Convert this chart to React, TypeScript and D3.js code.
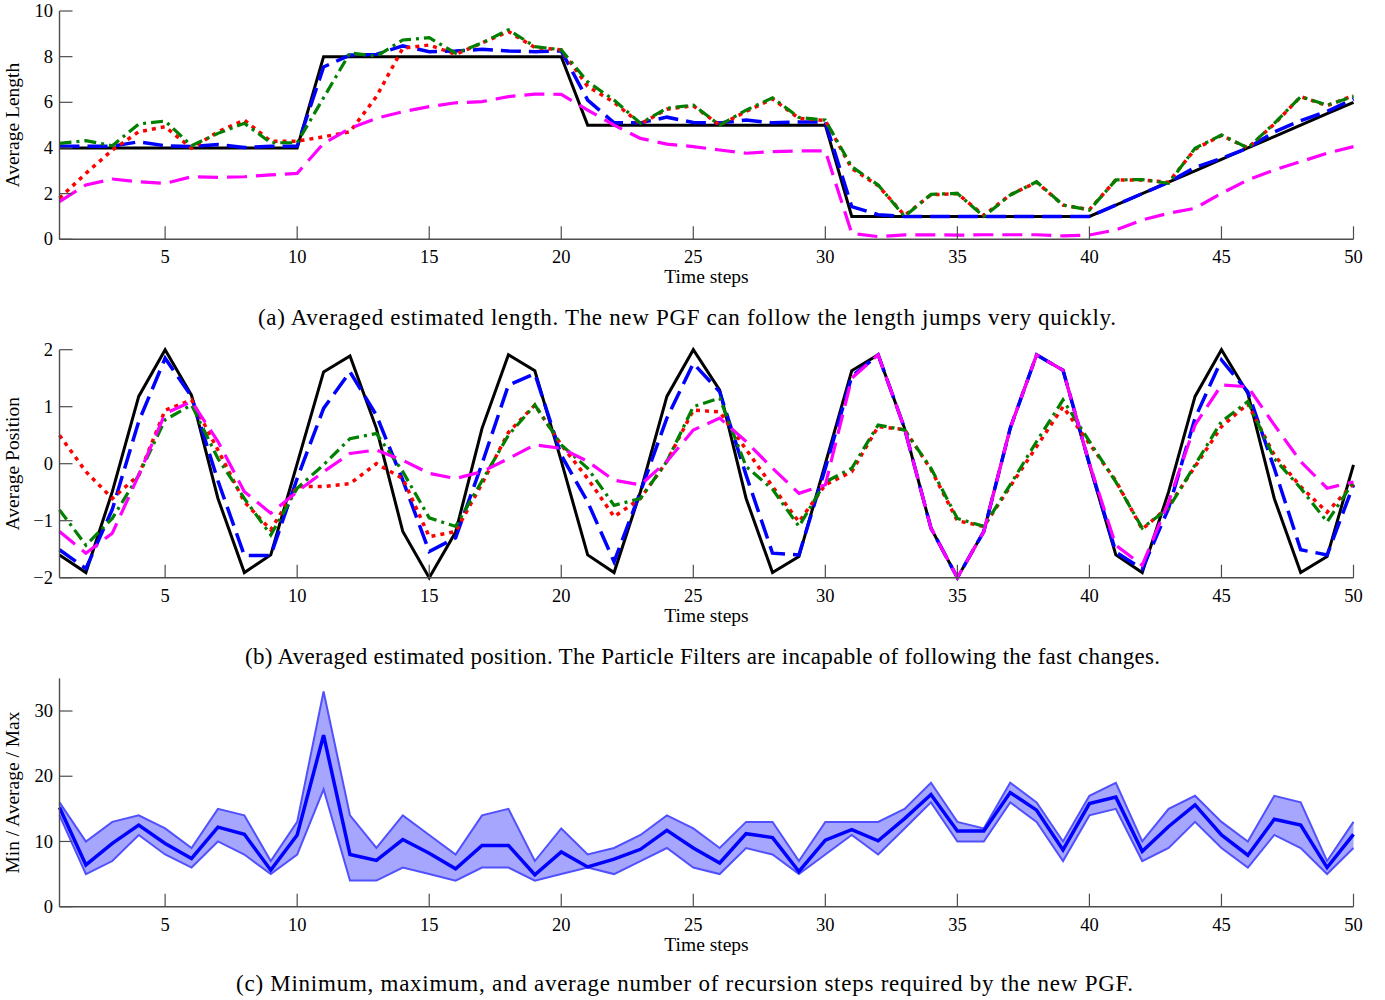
import React from 'react';
import * as d3 from 'd3';

// time axis shared by the three panels
const steps = d3.range(1, 51);
const stepTicks = d3.range(5, 51, 5);

// (a) average estimated length
const lengthTrue = [4, 4, 4, 4, 4, 4, 4, 4, 4, 4, 8, 8, 8, 8, 8, 8, 8, 8, 8, 8, 5, 5, 5, 5, 5, 5, 5, 5, 5, 5, 1, 1, 1, 1, 1, 1, 1, 1, 1, 1, 1.5, 2, 2.5, 3, 3.5, 4, 4.5, 5, 5.5, 6];
const lengthPGF = [4.08, 4.08, 4.08, 4.27, 4.1, 4.06, 4.15, 4.02, 4.08, 4.08, 7.55, 8.07, 8.1, 8.47, 8.22, 8.25, 8.32, 8.25, 8.22, 8.25, 6.1, 5.1, 5.1, 5.35, 5.12, 5.1, 5.22, 5.1, 5.14, 5.14, 1.43, 1.08, 1.0, 1, 1, 1, 1, 1, 1, 1, 1.5, 2.0, 2.5, 3.15, 3.55, 4.0, 4.7, 5.2, 5.6, 6.15];
const lengthGreen = [4.2, 4.32, 4.1, 5.05, 5.18, 4.1, 4.64, 5.08, 4.23, 4.23, 6.2, 8.17, 8.02, 8.73, 8.83, 8.15, 8.6, 9.18, 8.44, 8.3, 6.9, 6.1, 5.08, 5.74, 5.88, 5.0, 5.66, 6.2, 5.34, 5.22, 3.18, 2.38, 1.0, 1.97, 2.01, 1.0, 1.94, 2.52, 1.5, 1.28, 2.6, 2.62, 2.45, 3.99, 4.57, 4.0, 5.08, 6.25, 5.88, 6.25];
const lengthRed = [1.8, 2.89, 3.91, 4.71, 4.93, 3.99, 4.71, 5.22, 4.3, 4.3, 4.49, 4.71, 6.25, 8.37, 8.51, 8.1, 8.6, 9.1, 8.4, 8.3, 6.7, 6.0, 5.05, 5.7, 5.85, 5.0, 5.6, 6.15, 5.3, 5.2, 3.1, 2.35, 1.05, 1.95, 2.0, 1.05, 1.95, 2.5, 1.5, 1.3, 2.6, 2.6, 2.5, 3.95, 4.55, 4.0, 5.05, 6.25, 5.85, 6.3];
const lengthMagenta = [1.65, 2.38, 2.64, 2.52, 2.45, 2.74, 2.71, 2.74, 2.82, 2.89, 4.2, 4.86, 5.3, 5.59, 5.81, 5.98, 6.03, 6.25, 6.36, 6.35, 5.66, 5.0, 4.42, 4.17, 4.06, 3.91, 3.77, 3.84, 3.87, 3.87, 0.26, 0.12, 0.19, 0.2, 0.18, 0.2, 0.2, 0.2, 0.15, 0.19, 0.41, 0.85, 1.14, 1.36, 2.01, 2.6, 3.04, 3.4, 3.77, 4.06];
const lengthTicks = [0, 2, 4, 6, 8, 10];

// (b) average estimated position
const posTrue = [-1.6, -1.91, -0.49, 1.18, 2.0, 1.2, -0.61, -1.91, -1.6, 0.0, 1.61, 1.89, 0.62, -1.19, -2.0, -1.2, 0.62, 1.91, 1.63, 0.05, -1.6, -1.91, -0.49, 1.18, 2.0, 1.29, -0.61, -1.91, -1.63, 0.0, 1.63, 1.91, 0.62, -1.13, -2.0, -1.19, 0.62, 1.91, 1.64, -0.02, -1.6, -1.91, -0.49, 1.18, 2.0, 1.23, -0.61, -1.91, -1.63, -0.02];
const posPGF = [-1.51, -1.84, -0.8, 0.74, 1.85, 1.18, -0.3, -1.61, -1.61, -0.26, 0.97, 1.61, 0.85, -0.29, -1.54, -1.3, 0.0, 1.38, 1.58, 0.15, -0.67, -1.72, -0.49, 0.8, 1.76, 1.26, -0.2, -1.57, -1.6, -0.08, 1.53, 1.91, 0.62, -1.13, -2.0, -1.19, 0.62, 1.91, 1.64, 0.0, -1.55, -1.85, -0.78, 0.8, 1.82, 1.26, -0.08, -1.51, -1.6, -0.37];
const posGreen = [-0.81, -1.43, -0.96, -0.2, 0.77, 1.03, 0.09, -0.61, -1.25, -0.43, -0.02, 0.44, 0.53, -0.14, -0.95, -1.1, -0.3, 0.5, 1.03, 0.33, -0.08, -0.73, -0.61, 0.04, 1.0, 1.15, -0.05, -0.45, -1.1, -0.32, -0.08, 0.68, 0.59, -0.08, -0.96, -1.1, -0.37, 0.39, 1.12, 0.39, -0.32, -1.13, -0.78, -0.02, 0.74, 1.09, 0.09, -0.43, -1.02, -0.32];
const posRed = [0.5, -0.14, -0.61, -0.2, 0.94, 1.12, 0.24, -0.67, -1.16, -0.4, -0.4, -0.35, 0.0, -0.26, -1.28, -1.19, -0.35, 0.55, 1.03, 0.33, -0.26, -0.93, -0.61, 0.04, 0.94, 0.91, 0.25, -0.4, -1.02, -0.37, -0.14, 0.65, 0.6, -0.1, -1.0, -1.1, -0.4, 0.3, 1.0, 0.35, -0.3, -1.15, -0.75, -0.05, 0.65, 1.05, 0.15, -0.4, -0.85, -0.35];
const posMagenta = [-1.19, -1.57, -1.22, -0.2, 0.88, 1.09, 0.39, -0.49, -0.87, -0.49, -0.14, 0.18, 0.24, 0.06, -0.17, -0.26, -0.14, 0.09, 0.33, 0.27, 0.04, -0.29, -0.37, 0.04, 0.59, 0.8, 0.39, -0.08, -0.52, -0.37, 1.5, 1.91, 0.62, -1.13, -2.0, -1.19, 0.62, 1.91, 1.64, 0.0, -1.43, -1.78, -0.67, 0.68, 1.38, 1.35, 0.68, 0.04, -0.43, -0.32];
const posTicks = [-2, -1, 0, 1, 2];

// (c) recursion steps of the new PGF
const recMax = [16, 10, 13, 14, 12, 9, 15, 14, 7, 13, 33, 14, 9, 14, 11, 8, 14, 15, 7, 12, 8, 9, 11, 14, 12, 9, 13, 13, 7, 13, 13, 13, 15, 19, 13, 12, 19, 16, 10, 17, 19, 10, 15, 17, 13, 10, 17, 16, 7, 13];
const recAvg = [15.2, 6.4, 9.7, 12.5, 9.7, 7.4, 12.2, 11.1, 5.6, 11.0, 26.3, 8.0, 7.1, 10.3, 8.2, 5.8, 9.4, 9.4, 4.9, 8.4, 6.1, 7.3, 8.8, 11.7, 9.0, 6.7, 11.2, 10.6, 5.4, 10.2, 11.8, 10.1, 13.5, 17.2, 11.6, 11.6, 17.5, 14.8, 8.7, 15.8, 16.8, 8.5, 12.3, 15.6, 11.0, 7.9, 13.4, 12.5, 6.0, 11.1];
const recMin = [14, 5, 7, 11, 8, 6, 10, 8, 5, 8, 18, 4, 4, 6, 5, 4, 6, 6, 4, 5, 6, 5, 7, 9, 6, 5, 9, 8, 5, 8, 11, 8, 12, 16, 10, 10, 16, 13, 7, 14, 15, 7, 9, 13, 9, 6, 11, 9, 5, 9];
const recTicks = [0, 10, 20, 30];

const FONT = '"Liberation Serif", "Times New Roman", serif';
const AXIS = '#4d4d4d';

const x = d3.scaleLinear().domain([1, 50]).range([59.5, 1353.5]);
const yLength = d3.scaleLinear().domain([0, 10]).range([239.3, 11]);
const yPos = d3.scaleLinear().domain([-2, 2]).range([577.7, 349.7]);
const yRec = d3.scaleLinear().domain([0, 35]).range([906.7, 678.4]);

const lineFor = (y) =>
  d3.line<number>().x((d, i) => x(steps[i])).y((d) => y(d));

const styles = {
  black: { stroke: '#000', strokeWidth: 3 },
  blue: { stroke: '#0000ff', strokeWidth: 3.5, strokeDasharray: '20,8' },
  red: { stroke: '#ff0000', strokeWidth: 3.5, strokeDasharray: '4,5' },
  green: { stroke: '#008000', strokeWidth: 3.2, strokeDasharray: '12,5,3,5' },
  magenta: { stroke: '#ff00ff', strokeWidth: 3.2, strokeDasharray: '20,9' },
};

function Axes({ y, ticks, label }) {
  const [yb, yt] = y.range();
  const [x0, x1] = x.range();
  const fmt = d3.format('d');
  return (
    <g fontFamily={FONT}>
      <line x1={x0} x2={x1} y1={yb} y2={yb} stroke={AXIS} strokeWidth={1.4} />
      <line x1={x0} x2={x0} y1={yb} y2={yt} stroke={AXIS} strokeWidth={1.4} />
      {stepTicks.map((t) => (
        <g key={'x' + t}>
          <line x1={x(t)} x2={x(t)} y1={yb} y2={yb - 13} stroke={AXIS} strokeWidth={1.2} />
          <text x={x(t)} y={yb + 24} fontSize={18.5} textAnchor="middle">{t}</text>
        </g>
      ))}
      {ticks.map((v) => (
        <g key={'y' + v}>
          <line x1={x0} x2={x0 + 13} y1={y(v)} y2={y(v)} stroke={AXIS} strokeWidth={1.2} />
          <text x={53} y={y(v)} dy="0.33em" fontSize={18.5} textAnchor="end">{fmt(v)}</text>
        </g>
      ))}
      <text x={(x0 + x1) / 2} y={yb + 44} fontSize={19.5} textAnchor="middle">Time steps</text>
      <text transform={`translate(19, ${(yb + yt) / 2}) rotate(-90)`} fontSize={19.5} textAnchor="middle">
        {label}
      </text>
    </g>
  );
}

function Caption({ text, x0, x1, y }) {
  return (
    <text x={x0} y={y} fontFamily={FONT} fontSize={23} textLength={x1 - x0} lengthAdjust="spacing">
      {text}
    </text>
  );
}

export default function App() {
  const la = lineFor(yLength);
  const lb = lineFor(yPos);
  const lc = lineFor(yRec);
  const band = d3
    .area<number>()
    .x((d, i) => x(steps[i]))
    .y0((d, i) => yRec(recMin[i]))
    .y1((d) => yRec(d));

  const seriesA = [
    [lengthTrue, styles.black],
    [lengthPGF, styles.blue],
    [lengthRed, styles.red],
    [lengthGreen, styles.green],
    [lengthMagenta, styles.magenta],
  ];
  const seriesB = [
    [posTrue, styles.black],
    [posPGF, styles.blue],
    [posRed, styles.red],
    [posGreen, styles.green],
    [posMagenta, styles.magenta],
  ];

  return (
    <div style={{ position: 'absolute', left: 0, top: 0 }}>
      <svg width={1385} height={1000} style={{ display: 'block', background: '#fff' }}>
        {/* (a) */}
        {seriesA.map(([data, st], i) => (
          <path key={'a' + i} d={la(data)} fill="none" strokeLinejoin="miter" {...st} />
        ))}
        <Axes y={yLength} ticks={lengthTicks} label="Average Length" />
        <Caption
          text="(a) Averaged estimated length. The new PGF can follow the length jumps very quickly."
          x0={258} x1={1116} y={325}
        />

        {/* (b) */}
        {seriesB.map(([data, st], i) => (
          <path key={'b' + i} d={lb(data)} fill="none" strokeLinejoin="miter" {...st} />
        ))}
        <Axes y={yPos} ticks={posTicks} label="Average Position" />
        <Caption
          text="(b) Averaged estimated position. The Particle Filters are incapable of following the fast changes."
          x0={245} x1={1160} y={664}
        />

        {/* (c) */}
        <path d={band(recMax)} fill="#a6a6ff" stroke="none" />
        <path d={lc(recMax)} fill="none" stroke="#5050ff" strokeWidth={2} />
        <path d={lc(recMin)} fill="none" stroke="#5050ff" strokeWidth={2} />
        <path d={lc(recAvg)} fill="none" stroke="#0000ff" strokeWidth={3.5} />
        <Axes y={yRec} ticks={recTicks} label="Min / Average / Max" />
        <Caption
          text="(c) Minimum, maximum, and average number of recursion steps required by the new PGF."
          x0={236} x1={1133} y={991}
        />
      </svg>
    </div>
  );
}
